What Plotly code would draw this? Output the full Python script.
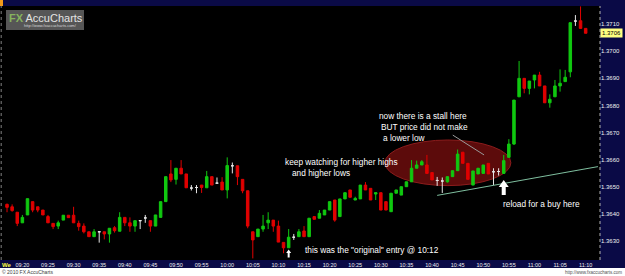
import plotly.graph_objects as go

# ---------------- data (EUR/USD 1-minute candles) ----------------
start_time = "09:17"

opens = [1.36436, 1.36427, 1.36407, 1.36368, 1.36397, 1.36446, 1.36427, 1.36415, 1.36391, 1.36366,
         1.36356, 1.36378, 1.36396, 1.36396, 1.36366, 1.36356, 1.36335, 1.36317, 1.36335, 1.36335,
         1.36327, 1.36350, 1.36337, 1.36388, 1.36368, 1.36356, 1.36376, 1.36386, 1.36376, 1.36356,
         1.36388, 1.36446, 1.36548, 1.36528, 1.36569, 1.36548, 1.36496, 1.36498, 1.36507, 1.36497,
         1.36538, 1.36514, 1.36518, 1.36489, 1.36578, 1.36578, 1.36528, 1.36486, 1.36335, 1.36317,
         1.36345, 1.36368, 1.36378, 1.36356, 1.36296, 1.36276, 1.36315, 1.36317, 1.36338, 1.36317,
         1.36391, 1.36385, 1.36397, 1.36415, 1.36452, 1.36391, 1.36456, 1.36489, 1.36452, 1.36456,
         1.36507, 1.36495, 1.36474, 1.36479, 1.36446, 1.36409, 1.36477, 1.36470, 1.36501, 1.36519,
         1.36569, 1.36581, 1.36581, 1.36553, 1.36524, 1.36522, 1.36519, 1.36538, 1.36560, 1.36628,
         1.36587, 1.36507, 1.36548, 1.36550, 1.36587, 1.36556, 1.36557, 1.36550, 1.36609, 1.36658,
         1.36832, 1.36900, 1.36863, 1.36894, 1.36912, 1.36872, 1.36810, 1.36832, 1.36872, 1.36888,
         1.36924, 1.37111, 1.37112, 1.37084]

highs = [1.36439, 1.36436, 1.36407, 1.36397, 1.36457, 1.36446, 1.36427, 1.36415, 1.36397, 1.36366,
         1.36376, 1.36396, 1.36396, 1.36427, 1.36376, 1.36366, 1.36335, 1.36345, 1.36337, 1.36335,
         1.36348, 1.36356, 1.36407, 1.36388, 1.36388, 1.36376, 1.36378, 1.36397, 1.36376, 1.36397,
         1.36446, 1.36538, 1.36599, 1.36569, 1.36599, 1.36548, 1.36507, 1.36507, 1.36507, 1.36559,
         1.36538, 1.36535, 1.36536, 1.36609, 1.36590, 1.36578, 1.36528, 1.36486, 1.36335, 1.36345,
         1.36397, 1.36407, 1.36378, 1.36376, 1.36296, 1.36345, 1.36327, 1.36345, 1.36356, 1.36385,
         1.36391, 1.36415, 1.36415, 1.36446, 1.36452, 1.36456, 1.36479, 1.36489, 1.36464, 1.36507,
         1.36518, 1.36495, 1.36479, 1.36479, 1.36446, 1.36477, 1.36489, 1.36501, 1.36519, 1.36599,
         1.36597, 1.36599, 1.36618, 1.36553, 1.36537, 1.36535, 1.36538, 1.36560, 1.36638, 1.36628,
         1.36587, 1.36559, 1.36569, 1.36581, 1.36587, 1.36569, 1.36569, 1.36618, 1.36676, 1.36820,
         1.36964, 1.36900, 1.36890, 1.36912, 1.36924, 1.36872, 1.36841, 1.36894, 1.36933, 1.36931,
         1.37105, 1.37133, 1.37165, 1.37084]

lows = [1.36407, 1.36409, 1.36356, 1.36368, 1.36397, 1.36407, 1.36407, 1.36397, 1.36368, 1.36345,
        1.36345, 1.36378, 1.36387, 1.36368, 1.36339, 1.36329, 1.36317, 1.36317, 1.36295, 1.36307,
        1.36295, 1.36332, 1.36337, 1.36356, 1.36335, 1.36335, 1.36345, 1.36368, 1.36335, 1.36356,
        1.36388, 1.36446, 1.36518, 1.36509, 1.36548, 1.36497, 1.36487, 1.36477, 1.36478, 1.36497,
        1.36507, 1.36514, 1.36489, 1.36458, 1.36550, 1.36507, 1.36477, 1.36348, 1.36237, 1.36317,
        1.36335, 1.36345, 1.36335, 1.36297, 1.36256, 1.36276, 1.36305, 1.36317, 1.36317, 1.36317,
        1.36381, 1.36385, 1.36397, 1.36415, 1.36372, 1.36391, 1.36456, 1.36462, 1.36452, 1.36456,
        1.36489, 1.36452, 1.36452, 1.36415, 1.36415, 1.36409, 1.36477, 1.36470, 1.36501, 1.36519,
        1.36569, 1.36581, 1.36550, 1.36526, 1.36504, 1.36478, 1.36516, 1.36538, 1.36560, 1.36587,
        1.36528, 1.36507, 1.36548, 1.36550, 1.36548, 1.36507, 1.36542, 1.36550, 1.36609, 1.36655,
        1.36832, 1.36845, 1.36841, 1.36863, 1.36872, 1.36810, 1.36792, 1.36832, 1.36851, 1.36888,
        1.36904, 1.37093, 1.37084, 1.37066]

closes = [1.36425, 1.36413, 1.36366, 1.36388, 1.36457, 1.36415, 1.36415, 1.36397, 1.36368, 1.36354,
          1.36368, 1.36396, 1.36387, 1.36368, 1.36354, 1.36335, 1.36317, 1.36335, 1.36335, 1.36327,
          1.36348, 1.36339, 1.36388, 1.36368, 1.36356, 1.36376, 1.36376, 1.36386, 1.36356, 1.36397,
          1.36446, 1.36538, 1.36526, 1.36569, 1.36548, 1.36497, 1.36496, 1.36498, 1.36498, 1.36538,
          1.36507, 1.36514, 1.36489, 1.36579, 1.36578, 1.36538, 1.36486, 1.36356, 1.36305, 1.36345,
          1.36356, 1.36378, 1.36356, 1.36297, 1.36276, 1.36315, 1.36315, 1.36335, 1.36317, 1.36385,
          1.36381, 1.36403, 1.36415, 1.36446, 1.36378, 1.36456, 1.36479, 1.36462, 1.36458, 1.36507,
          1.36489, 1.36452, 1.36479, 1.36415, 1.36415, 1.36477, 1.36489, 1.36501, 1.36519, 1.36569,
          1.36581, 1.36593, 1.36550, 1.36526, 1.36524, 1.36522, 1.36538, 1.36560, 1.36621, 1.36587,
          1.36528, 1.36559, 1.36569, 1.36581, 1.36548, 1.36556, 1.36557, 1.36597, 1.36658, 1.36820,
          1.36900, 1.36863, 1.36890, 1.36912, 1.36872, 1.36810, 1.36823, 1.36872, 1.36882, 1.36904,
          1.37105, 1.37111, 1.37084, 1.37066]

time_labels = ["09:20", "09:25", "09:30", "09:35", "09:40", "09:45", "09:50", "09:55", "10:00",
               "10:05", "10:10", "10:15", "10:20", "10:25", "10:30", "10:35", "10:40", "10:45",
               "10:50", "10:55", "11:00", "11:05", "11:10"]
price_ticks = [1.3630, 1.3640, 1.3650, 1.3660, 1.3670, 1.3680, 1.3690, 1.3700, 1.3710]
last_price = closes[-1]

entry_time = "10:12"
reload_time = "10:54"

# ---------------- helpers ----------------
def minutes(t):
    h, m = t.split(":")
    return int(h) * 60 + int(m)

t0 = minutes(start_time)
x = list(range(len(opens)))
tick_pos = [minutes(t) - t0 for t in time_labels]

GREEN = "#10c810"
RED = "#e00000"
DOJI = "#e6e6e6"

groups = {"up": [], "down": [], "doji": []}
for i in x:
    if closes[i] > opens[i]:
        groups["up"].append(i)
    elif closes[i] < opens[i]:
        groups["down"].append(i)
    else:
        groups["doji"].append(i)

fig = go.Figure()
for key, col in (("up", GREEN), ("down", RED), ("doji", DOJI)):
    idx = groups[key]
    fig.add_trace(go.Candlestick(
        x=[x[i] for i in idx],
        open=[opens[i] for i in idx],
        high=[highs[i] for i in idx],
        low=[lows[i] for i in idx],
        close=[closes[i] for i in idx],
        increasing=dict(line=dict(color=col, width=1), fillcolor=col),
        decreasing=dict(line=dict(color=col, width=1), fillcolor=col),
        whiskerwidth=0,
        hoverinfo="skip",
        showlegend=False,
    ))

# ---------------- geometry helpers for layout (pixel -> paper) ----------------
PLOT_W = 600.0
PLOT_TOP = 6.0
PLOT_BOT = 260.0
PLOT_H = PLOT_BOT - PLOT_TOP

def px(xp):
    return xp / PLOT_W

def py(yp):
    return (PLOT_BOT - yp) / PLOT_H

FONT = "Liberation Sans, Arial, sans-serif"

shapes = []
# stall ellipse
shapes.append(dict(type="circle", xref="x", yref="y", x0=73.8, x1=98.4, y0=1.36505, y1=1.36673,
                   fillcolor="#5c0b0b", line=dict(color="#8c1c1c", width=1), layer="below"))
# rising support line
shapes.append(dict(type="line", xref="x", yref="y", x0=84.0, y0=1.36469, x1=115.4, y1=1.36575,
                   line=dict(color="#7fbf9f", width=1)))
# pointer from text to the ellipse
shapes.append(dict(type="line", xref="x", yref="y", x0=87.05, y0=1.36691, x1=93.16, y1=1.36618,
                   line=dict(color="#9a9a9a", width=1)))
# big white arrow (reload)
reload_i = minutes(reload_time) - t0
shapes.append(dict(type="path", xref="x", yref="y", xsizemode="pixel", ysizemode="pixel",
                   xanchor=reload_i, yanchor=1.36526,
                   path="M0,0 L5,-7 L2,-7 L2,-15 L-2,-15 L-2,-7 L-5,-7 Z",
                   fillcolor="white", line=dict(width=0)))
# small white arrow (original entry)
entry_i = minutes(entry_time) - t0
shapes.append(dict(type="path", xref="x", yref="y", xsizemode="pixel", ysizemode="pixel",
                   xanchor=entry_i, yanchor=1.36270,
                   path="M0,0 L2.5,-3.5 L1,-3.5 L1,-8 L-1,-8 L-1,-3.5 L-2.5,-3.5 Z",
                   fillcolor="white", line=dict(width=0)))
# right-panel dotted border and left dotted edge
shapes.append(dict(type="line", xref="paper", yref="paper", x0=1.0, x1=1.0, y0=0, y1=1,
                   line=dict(color="#b0b0b0", width=1, dash="dot")))
shapes.append(dict(type="line", xref="paper", yref="paper", x0=0.002, x1=0.002, y0=0, y1=1,
                   line=dict(color="#808080", width=1, dash="dot")))
# orange corner mark
shapes.append(dict(type="rect", xref="paper", yref="paper", x0=0, x1=px(3), y0=1.0, y1=py(0),
                   fillcolor="#f29a1a", line=dict(width=0)))
# logo box
shapes.append(dict(type="rect", xref="paper", yref="paper", x0=px(6), x1=px(84), y0=py(30), y1=py(10),
                   fillcolor="#565656", line=dict(width=0)))
# white footer
shapes.append(dict(type="rect", xref="paper", yref="paper", x0=-0.01, x1=1.06, y0=py(280), y1=py(268),
                   fillcolor="white", line=dict(width=0)))

TXT = dict(color="#ffffff", size=8.3, family=FONT)
annotations = []

def note(text, xp, yp, **kw):
    d = dict(text=text, xref="paper", yref="paper", x=px(xp), y=py(yp), xanchor="left",
             yanchor="middle", showarrow=False, font=TXT, borderpad=0)
    d.update(kw)
    annotations.append(d)

note("now there is a stall here", 378, 115.7)
note("BUT price did not make", 380, 126.7)
note("a lower low", 382, 137.7)
note("keep watching for higher highs", 284, 162.3)
note("and higher lows", 291, 173.3)
note('this was the "original" entry @ 10:12', 304, 250)
note("reload for a buy here", 502, 204)

# logo text
note("<b><span style='color:#86b35e'>FX</span></b> AccuCharts", 8, 17.5,
     font=dict(color="#e4e4e4", size=11, family=FONT))
note("http://www.fxaccucharts.com/", 23, 25.5, font=dict(color="#d8d8d8", size=4, family=FONT))
# footer texts
note("© 2010 FX AccuCharts", 1, 272, font=dict(color="#404040", size=5, family=FONT))
annotations.append(dict(text="http://www.fxaccucharts.com", xref="paper", yref="paper",
                        x=px(624), y=py(272.5), xanchor="right", yanchor="middle",
                        showarrow=False, font=dict(color="#505050", size=4.5, family=FONT)))
# day label
note("<b>We</b>", 1, 264.5, font=dict(color="#ffff40", size=6, family=FONT))
# current price tag (chart shows the truncated 4-decimal price)
tag_text = f"{int(round(last_price * 1e5)) // 10 / 1e4:.4f}"
annotations.append(dict(text=tag_text, xref="paper", yref="y", x=1.0, y=last_price,
                        xanchor="left", yanchor="middle", showarrow=False,
                        font=dict(color="black", size=6, family=FONT),
                        bgcolor="#ffff80", borderpad=1))

fig.update_layout(
    width=625, height=276,
    margin=dict(l=0, r=25, t=6, b=16),
    paper_bgcolor="#0a0a46",
    plot_bgcolor="black",
    showlegend=False,
    font=dict(family=FONT, color="white"),
    shapes=shapes,
    annotations=annotations,
    xaxis=dict(range=[-1.37, 115.8], tickmode="array", tickvals=tick_pos, ticktext=time_labels,
               tickfont=dict(size=5.5, color="#f0f0f0", family=FONT), showgrid=False,
               zeroline=False, showline=False, ticks="", rangeslider=dict(visible=False),
               fixedrange=True),
    yaxis=dict(range=[1.362311, 1.371664], side="right", tickmode="array", tickvals=price_ticks,
               ticktext=[f"{v:.4f}" for v in price_ticks],
               tickfont=dict(size=6, color="#f0f0f0", family=FONT), showgrid=False,
               zeroline=False, showline=False, ticks="", fixedrange=True),
)

fig.write_html("out.html")
